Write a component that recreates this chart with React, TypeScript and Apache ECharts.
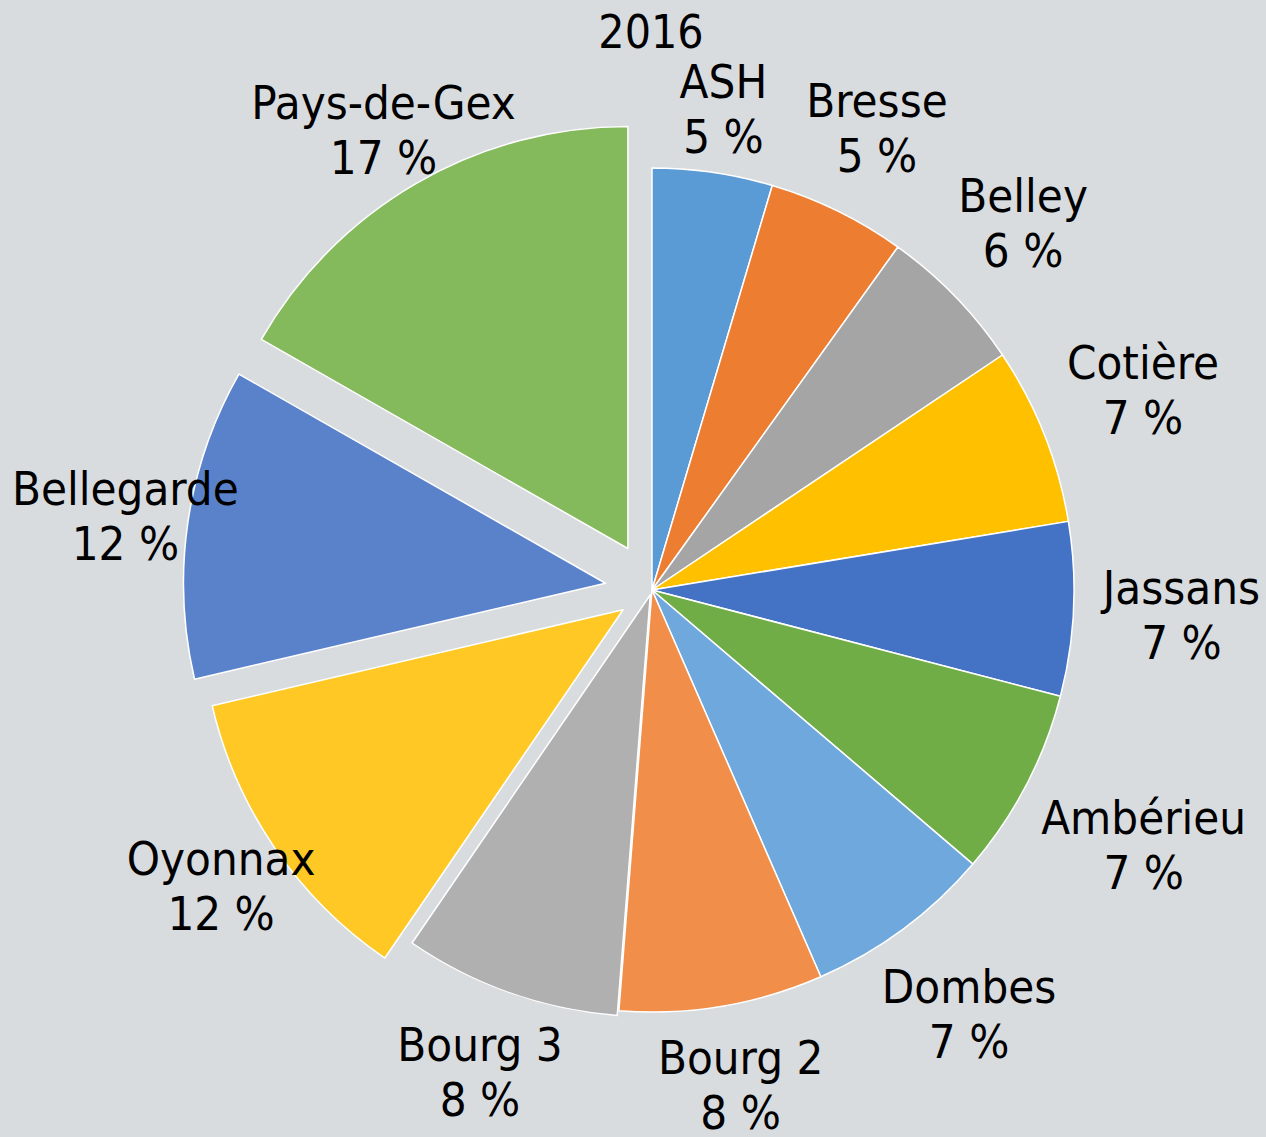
import React, { useEffect, useRef } from "react";
import * as echarts from "echarts";

const title = "2016";
const categories = [
  "ASH", "Bresse", "Belley", "Cotière", "Jassans", "Ambérieu",
  "Dombes", "Bourg 2", "Bourg 3", "Oyonnax", "Bellegarde", "Pays-de-Gex",
];
const values = [4.6, 5.3, 5.7, 6.8, 6.65, 7.2, 7.2, 7.8, 8.3, 11.8, 11.9, 16.75];
const colors = [
  "#5B9BD5", "#ED7D31", "#A5A5A5", "#FFC000", "#4472C4", "#70AD47",
  "#6FA8DC", "#F08E4A", "#B0B0B0", "#FFC825", "#5A82CB", "#84B95C",
];
// explosion distance (px) per slice
const explode = [0, 0, 0, 0, 0, 0, 0, 0, 5, 35, 47, 48];
// small label nudges (px) per slice, [dx, dy]
const labelNudgeX = [0, -5, 0, 0, 0, 0, -4, 0, 6, 20, 0, 25];
const labelNudgeY = [4, -10, -7, 0, 0, 4, 15, 3, 10, -5, 4, -23];

const W = 1266;
const H = 1137;
const CX = 652;
const CY = 590;
const R = 422;
const GAP = 30;
const EDGE = 12;
const TOP_LIMIT = 54;
const FONT = "'DejaVu Sans Condensed', 'DejaVu Sans', sans-serif";

export default function App() {
  const ref = useRef<HTMLDivElement>(null);
  useEffect(() => {
    document.body.style.margin = "0";
    if (!ref.current) return;
    const chart = echarts.init(ref.current, null, { renderer: "svg" });
    const total = values.reduce((a, b) => a + b, 0);
    const cum: number[] = [];
    let acc = 0;
    values.forEach((v) => { cum.push(acc); acc += v; });
    const mid = values.map((v, i) => ((cum[i] + v / 2) / total) * Math.PI * 2);

    const labelLayout = (p: any) => {
      const i = p.dataIndex;
      const a = mid[i];
      const ux = Math.sin(a);
      const uy = -Math.cos(a);
      const w = p.labelRect.width;
      const h = p.labelRect.height;
      const fy = Math.sign(uy) * Math.min(1, Math.abs(uy) * 2);
      let x = CX + (R + GAP) * ux + ux * w / 2;
      let y = CY + (R + GAP) * uy + fy * h * 0.45;
      x = Math.max(EDGE + w / 2, Math.min(W - EDGE / 2 - w / 2, x));
      y = Math.max(TOP_LIMIT + h / 2, Math.min(H - h / 2, y));
      return {
        x: x + labelNudgeX[i],
        y: y + labelNudgeY[i],
        align: "center",
        verticalAlign: "middle",
      };
    };

    const makeSeries = (members: (i: number) => boolean, off: number, idx: number) => {
      const a = idx >= 0 ? mid[idx] : 0;
      const cx = CX + off * Math.sin(a);
      const cy = CY - off * Math.cos(a);
      return {
        type: "pie",
        radius: R,
        center: [cx, cy],
        startAngle: 90,
        clockwise: true,
        avoidLabelOverlap: false,
        silent: true,
        labelLine: { show: false },
        data: categories.map((name, i) => ({
          name,
          value: values[i],
          itemStyle: members(i)
            ? { color: colors[i], borderColor: "#ffffff", borderWidth: 1.5 }
            : { color: "rgba(0,0,0,0)", borderWidth: 0 },
          label: { show: members(i) },
        })),
        label: {
          position: "outside",
          fontFamily: FONT,
          formatter: (p: any) => `{a|${p.name}}\n{a|${Math.round(p.percent)} %}`,
          rich: {
            a: {
              fontFamily: FONT,
              fontSize: 47,
              lineHeight: 55,
              color: "#000000",
              align: "center",
            },
          },
        },
        labelLayout,
      };
    };

    const series: any[] = [makeSeries((i) => explode[i] === 0, 0, -1)];
    explode.forEach((off, idx) => {
      if (off > 0) series.push(makeSeries((i) => i === idx, off, idx));
    });

    chart.setOption({
      animation: false,
      backgroundColor: "#D9DCDF",
      title: {
        text: title,
        left: 646,
        top: 4,
        textAlign: "center",
        textStyle: { fontFamily: FONT, fontSize: 46, fontWeight: "normal", color: "#000000" },
      },
      series,
    });
    return () => chart.dispose();
  }, []);
  return <div ref={ref} style={{ width: W, height: H }} />;
}
